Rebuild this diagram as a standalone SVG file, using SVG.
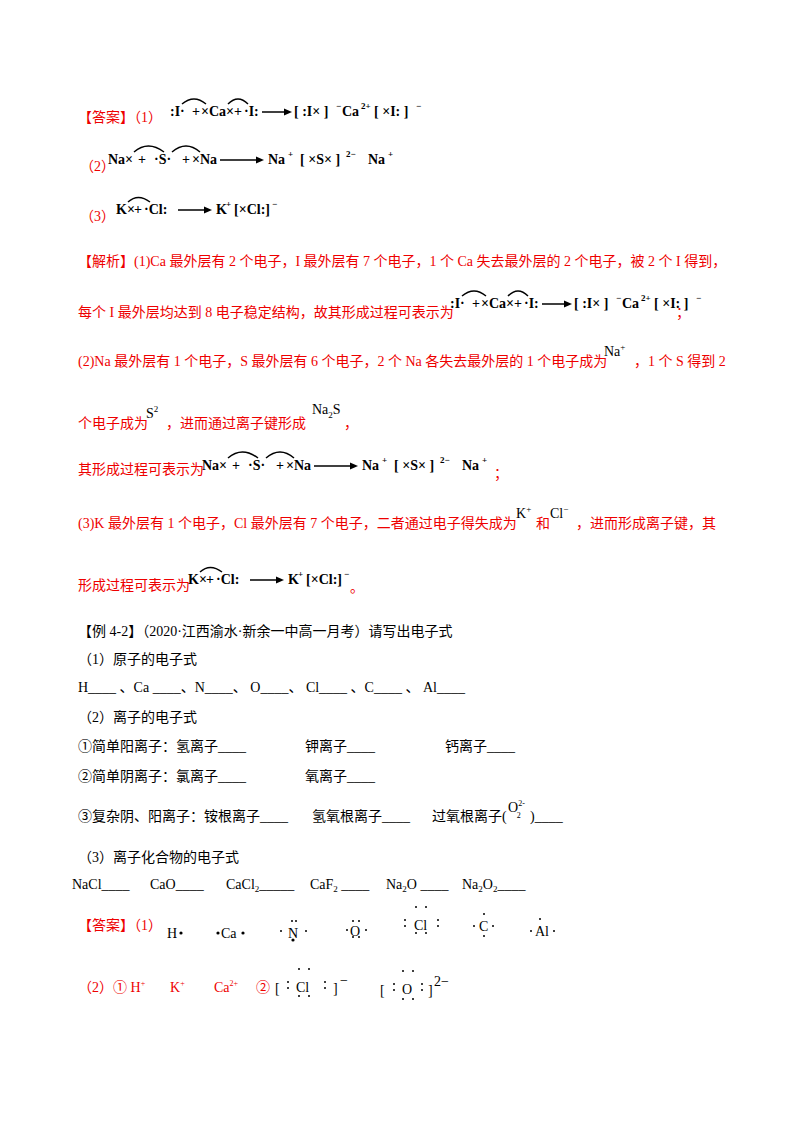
<svg xmlns="http://www.w3.org/2000/svg" width="800" height="1132" viewBox="0 0 800 1132">
<style>
text{font-family:"Liberation Serif","Noto Sans CJK SC",serif;font-size:14px;fill:#000}
.r{fill:#e00}
.f{font-weight:bold;font-size:14px}
.s{font-size:9px;font-weight:bold}
.arc{fill:none;stroke:#000;stroke-width:1.5}
.ln{stroke:#000;stroke-width:1.5}
.d{fill:#000}
</style>
<defs>
<g id="F1">
<text class="f" x="0" y="0">:I·</text><text class="f" x="22" y="0">+</text><text class="f" x="31" y="0">×Ca×</text><text class="f" x="64" y="0">+</text><text class="f" x="74" y="0">·I:</text>
<path class="arc" d="M12,-12 Q24,-22 36,-12"/><path class="arc" d="M58,-12 Q68,-22 78,-12"/>
<line class="ln" x1="92" y1="-4" x2="114" y2="-4"/><path d="M114,-7.5 L122,-4 L114,-0.5Z"/>
<text class="f" x="124" y="0">[ :I× ]</text><text class="s" x="166" y="-7">−</text>
<text class="f" x="172" y="0">Ca</text><text class="s" x="191" y="-7">2+</text>
<text class="f" x="204" y="0">[ ×I: ]</text><text class="s" x="246" y="-7">−</text>
</g>
<g id="F2">
<text class="f" x="0" y="0">Na×</text><text class="f" x="30" y="0">+</text><text class="f" x="46" y="0">·S·</text><text class="f" x="74" y="0">+</text><text class="f" x="84" y="0">×Na</text>
<path class="arc" d="M26,-12 Q40,-24 56,-12"/><path class="arc" d="M64,-12 Q78,-24 92,-12"/>
<line class="ln" x1="112" y1="-4" x2="148" y2="-4"/><path d="M148,-7.5 L156,-4 L148,-0.5Z"/>
<text class="f" x="160" y="0">Na</text><text class="s" x="180" y="-7">+</text>
<text class="f" x="192" y="0">[ ×S× ]</text><text class="s" x="238" y="-7">2−</text>
<text class="f" x="260" y="0">Na</text><text class="s" x="280" y="-7">+</text>
</g>
<g id="F3">
<text class="f" x="0" y="0">K×</text><text class="f" x="18" y="0">+</text><text class="f" x="28" y="0">·Cl:</text>
<path class="arc" d="M12,-12 Q22,-21 34,-12"/>
<line class="ln" x1="62" y1="-4" x2="88" y2="-4"/><path d="M88,-7.5 L96,-4 L88,-0.5Z"/>
<text class="f" x="100" y="0">K</text><text class="s" x="110" y="-7">+</text>
<text class="f" x="118" y="0">[×Cl:]</text><text class="s" x="156" y="-7">−</text>
</g>
</defs>
<rect width="800" height="1132" fill="#fff"/>
<g id="answer1">
<text class="r" x="78" y="122">【答案】（1）</text>
<use href="#F1" x="170" y="116"/>
<text class="r" x="80" y="171">（2）</text>
<use href="#F2" x="108" y="164"/>
<text class="r" x="80" y="221">（3）</text>
<use href="#F3" x="116" y="214"/>
</g>
<g id="analysis">
<text class="r" x="78" y="266">【解析】(1)Ca 最外层有 2 个电子，I 最外层有 7 个电子，1 个 Ca 失去最外层的 2 个电子，被 2 个 I 得到，</text>
<text class="r" x="78" y="317">每个 I 最外层均达到 8 电子稳定结构，故其形成过程可表示为</text>
<use href="#F1" x="450" y="308"/>
<text class="r" x="676" y="317">；</text>
<text class="r" x="78" y="366">(2)Na 最外层有 1 个电子，S 最外层有 6 个电子，2 个 Na 各失去最外层的 1 个电子成为</text>
<text x="604" y="356">Na<tspan font-size="9" dy="-6">+</tspan></text>
<text class="r" x="634" y="366">，1 个 S 得到 2</text>
<text class="r" x="78" y="428">个电子成为</text>
<text x="146" y="418">S<tspan font-size="9" dy="-6">2</tspan></text>
<text class="r" x="166" y="428">，进而通过离子键形成</text>
<text x="312" y="414">Na<tspan font-size="9" dy="4">2</tspan><tspan dy="-4">S</tspan></text>
<text class="r" x="344" y="428">，</text>
<text class="r" x="78" y="474">其形成过程可表示为</text>
<use href="#F2" x="202" y="470"/>
<text class="r" x="494" y="478">；</text>
<text class="r" x="78" y="528">(3)K 最外层有 1 个电子，Cl 最外层有 7 个电子，二者通过电子得失成为</text>
<text x="516" y="518">K<tspan font-size="9" dy="-6">+</tspan></text>
<text class="r" x="536" y="528" font-size="12">和</text>
<text x="550" y="518">Cl<tspan font-size="9" dy="-6">−</tspan></text>
<text class="r" x="576" y="528">，进而形成离子键，其</text>
<text class="r" x="78" y="590">形成过程可表示为</text>
<use href="#F3" x="188" y="584"/>
<text class="r" x="350" y="592">。</text>
</g>
<g id="example">
<text x="78" y="636">【例 4-2】（2020·江西渝水·新余一中高一月考）请写出电子式</text>
<text x="78" y="664">（1）原子的电子式</text>
<text x="78" y="692">H____ 、Ca ____、N____、 O____、 Cl____ 、C____ 、 Al____</text>
<text x="78" y="722">（2）离子的电子式</text>
<text x="78" y="751">①简单阳离子：氢离子____</text>
<text x="305" y="751">钾离子____</text>
<text x="445" y="751">钙离子____</text>
<text x="78" y="781">②简单阴离子：氯离子____</text>
<text x="305" y="781">氧离子____</text>
<text x="78" y="821">③复杂阴、阳离子：铵根离子____</text>
<text x="312" y="821">氢氧根离子____</text>
<text x="432" y="821">过氧根离子(</text>
<text x="508" y="812" font-size="13">O<tspan font-size="8" dy="-6">2-</tspan><tspan font-size="8" dx="-8" dy="12">2</tspan></text>
<text x="530" y="821">)____</text>
<text x="78" y="862">（3）离子化合物的电子式</text>
<text x="72" y="889">NaCl____</text>
<text x="150" y="889">CaO____</text>
<text x="226" y="889">CaCl<tspan font-size="9" dy="3">2</tspan><tspan dy="-3">_____</tspan></text>
<text x="310" y="889">CaF<tspan font-size="9" dy="3">2</tspan><tspan dy="-3"> ____</tspan></text>
<text x="386" y="889">Na<tspan font-size="9" dy="3">2</tspan><tspan dy="-3">O ____</tspan></text>
<text x="462" y="889">Na<tspan font-size="9" dy="3">2</tspan><tspan dy="-3">O</tspan><tspan font-size="9" dy="3">2</tspan><tspan dy="-3">____</tspan></text>
</g>
<g id="answer2">
<text class="r" x="78" y="930">【答案】（1）</text>
<text x="167" y="938">H</text><circle class="d" cx="181" cy="933" r="1.6"/>
<circle class="d" cx="218" cy="933" r="1.6"/><text x="221" y="938">Ca</text><circle class="d" cx="243" cy="933" r="1.6"/>
<circle class="d" cx="281" cy="931" r="1"/><text x="288" y="938">N</text><circle class="d" cx="306" cy="931" r="1"/>
<circle class="d" cx="292" cy="921" r="1"/><circle class="d" cx="296" cy="921" r="1"/><circle class="d" cx="293" cy="940" r="1.6"/>
<circle class="d" cx="347" cy="930" r="1"/><text x="350" y="936">O</text><circle class="d" cx="366" cy="930" r="1"/>
<circle class="d" cx="353" cy="921" r="1"/><circle class="d" cx="359" cy="921" r="1"/><circle class="d" cx="353" cy="937" r="1"/><circle class="d" cx="359" cy="937" r="1"/>
<text x="414" y="930">Cl</text>
<circle class="d" cx="405" cy="920" r="1"/><circle class="d" cx="405" cy="926" r="1"/><circle class="d" cx="438" cy="920" r="1"/><circle class="d" cx="438" cy="926" r="1"/>
<circle class="d" cx="416" cy="907" r="1"/><circle class="d" cx="426" cy="907" r="1"/><circle class="d" cx="416" cy="933" r="1"/><circle class="d" cx="426" cy="933" r="1"/>
<text x="479" y="931">C</text><circle class="d" cx="474" cy="926" r="1"/><circle class="d" cx="493" cy="926" r="1"/><circle class="d" cx="484" cy="914" r="1"/><circle class="d" cx="484" cy="936" r="1"/>
<text x="535" y="936">Al</text><circle class="d" cx="531" cy="931" r="1"/><circle class="d" cx="554" cy="931" r="1"/><circle class="d" cx="540" cy="919" r="1"/>
<text class="r" x="78" y="992">（2）① H<tspan font-size="8" dy="-6">+</tspan></text>
<text class="r" x="170" y="992">K<tspan font-size="8" dy="-6">+</tspan></text>
<text class="r" x="214" y="992">Ca<tspan font-size="8" dy="-6">2+</tspan></text>
<text class="r" x="256" y="992">②</text>
<text x="275" y="993" fill="#777" font-size="16">[</text><text x="296" y="992">Cl</text><text x="333" y="993" fill="#777" font-size="16">]</text><text x="340" y="985" font-size="10">−</text>
<circle class="d" cx="288" cy="982" r="1"/><circle class="d" cx="288" cy="988" r="1"/><circle class="d" cx="325" cy="982" r="1"/><circle class="d" cx="325" cy="988" r="1"/>
<circle class="d" cx="299" cy="969" r="1"/><circle class="d" cx="309" cy="969" r="1"/><circle class="d" cx="299" cy="996" r="1"/><circle class="d" cx="309" cy="996" r="1"/>
<text x="380" y="995" fill="#777" font-size="16">[</text><text x="402" y="994">O</text><text x="428" y="995" fill="#777" font-size="16">]</text><text x="434" y="986" font-size="10">2−</text>
<circle class="d" cx="394" cy="984" r="1"/><circle class="d" cx="394" cy="990" r="1"/><circle class="d" cx="422" cy="984" r="1"/><circle class="d" cx="422" cy="990" r="1"/>
<circle class="d" cx="403" cy="971" r="1"/><circle class="d" cx="413" cy="971" r="1"/><circle class="d" cx="403" cy="999" r="1"/><circle class="d" cx="413" cy="999" r="1"/>
</g>
</svg>
